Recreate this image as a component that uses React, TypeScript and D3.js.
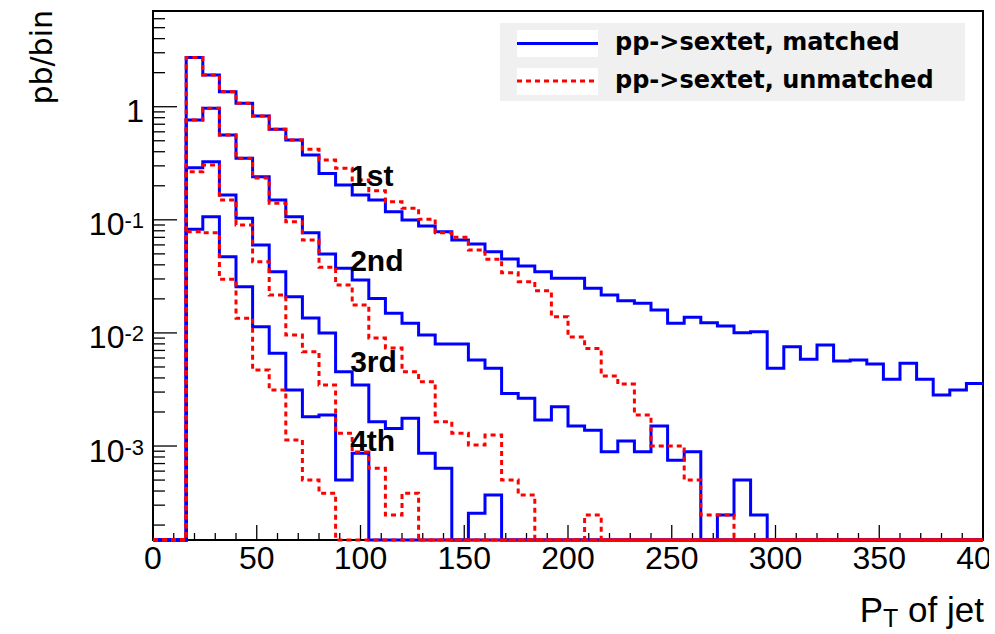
import React from "react";
import * as d3 from "d3";

// ---- data (pb/bin), 50 bins of width 8 GeV from 0 to 400 ----
const BIN_WIDTH = 8;
const X_DOMAIN: [number, number] = [0, 400];
const Y_DOMAIN: [number, number] = [1.476e-4, 7.02];

const matched1st = [0, 0, 2.73, 1.907, 1.357, 1.072, 0.828, 0.631, 0.508, 0.374, 0.2567, 0.203, 0.1657, 0.1497, 0.1179, 0.0996, 0.0882, 0.0785, 0.0663, 0.0611, 0.0522, 0.045, 0.039, 0.0348, 0.0304, 0.0304, 0.0248, 0.0216, 0.01926, 0.01827, 0.01594, 0.01216, 0.01373, 0.01231, 0.0115, 0.01004, 0.01025, 0.00486, 0.00755, 0.00584, 0.00782, 0.00564, 0.00576, 0.00531, 0.00389, 0.00538, 0.00389, 0.00282, 0.00313, 0.00358];
const unmatched1st = [0, 0, 2.73, 1.907, 1.357, 1.072, 0.828, 0.631, 0.508, 0.42, 0.338, 0.2853, 0.2248, 0.1809, 0.1445, 0.1264, 0.101, 0.0769, 0.07, 0.054, 0.0447, 0.0341, 0.0284, 0.0236, 0.0139, 0.0092, 0.0073, 0.00416, 0.00353, 0.00188, 0.001, 0.001, 0.0005, 0.000245, 0.000245, 0, 0, 0, 0, 0, 0, 0, 0, 0, 0, 0, 0, 0, 0, 0];
const matched2nd = [0, 0, 0.763, 0.968, 0.562, 0.35, 0.2404, 0.1497, 0.1065, 0.0769, 0.0498, 0.0373, 0.0294, 0.0202, 0.0149, 0.01216, 0.00958, 0.00798, 0.00798, 0.00576, 0.00486, 0.00292, 0.00264, 0.0017, 0.00223, 0.0015, 0.00138, 0.00089, 0.00111, 0.00089, 0.0015, 0.00075, 0.00089, 0, 0.000245, 0.0005, 0.000245, 0, 0, 0, 0, 0, 0, 0, 0, 0, 0, 0, 0, 0];
const unmatched2nd = [0, 0, 0.763, 0.968, 0.562, 0.35, 0.234, 0.14, 0.0962, 0.0663, 0.038, 0.0265, 0.01765, 0.009, 0.00735, 0.00454, 0.0037, 0.00164, 0.0013, 0.00102, 0.00125, 0.0005, 0.000369, 0, 0, 0, 0.000245, 0, 0, 0, 0, 0, 0, 0, 0, 0, 0, 0, 0, 0, 0, 0, 0, 0, 0, 0, 0, 0, 0, 0];
const matched3rd = [0, 0, 0.289, 0.3265, 0.1657, 0.1031, 0.0599, 0.0348, 0.0209, 0.01354, 0.00998, 0.00454, 0.00346, 0.00164, 0.00143, 0.00176, 0.000862, 0.000635, 0, 0.000254, 0.000369, 0, 0, 0, 0, 0, 0, 0, 0, 0, 0, 0, 0, 0, 0, 0, 0, 0, 0, 0, 0, 0, 0, 0, 0, 0, 0, 0, 0, 0];
const unmatched3rd = [0, 0, 0.2663, 0.305, 0.1497, 0.0899, 0.0426, 0.0216, 0.00958, 0.00682, 0.00346, 0.0013, 0.000885, 0.000635, 0.000245, 0.000382, 0, 0, 0, 0, 0, 0, 0, 0, 0, 0, 0, 0, 0, 0, 0, 0, 0, 0, 0, 0, 0, 0, 0, 0, 0, 0, 0, 0, 0, 0, 0, 0, 0, 0];
const matched4th = [0, 0, 0.0824, 0.1065, 0.0472, 0.0256, 0.01134, 0.0066, 0.00313, 0.001816, 0.00188, 0.0005, 0.000862, 0, 0, 0, 0, 0, 0, 0, 0, 0, 0, 0, 0, 0, 0, 0, 0, 0, 0, 0, 0, 0, 0, 0, 0, 0, 0, 0, 0, 0, 0, 0, 0, 0, 0, 0, 0, 0];
const unmatched4th = [0, 0, 0.0785, 0.0769, 0.0298, 0.01346, 0.0047, 0.00313, 0.00113, 0.0005, 0.000382, 0, 0, 0, 0, 0, 0, 0, 0, 0, 0, 0, 0, 0, 0, 0, 0, 0, 0, 0, 0, 0, 0, 0, 0, 0, 0, 0, 0, 0, 0, 0, 0, 0, 0, 0, 0, 0, 0, 0];

const matchedSeries = [matched1st, matched2nd, matched3rd, matched4th];
const unmatchedSeries = [unmatched1st, unmatched2nd, unmatched3rd, unmatched4th];

const xMajorTicks = [0, 50, 100, 150, 200, 250, 300, 350, 400];
const xTickLabels = ["0", "50", "100", "150", "200", "250", "300", "350", "400"];
const yMajorTicks = [1e-3, 1e-2, 1e-1, 1];
const yTickBase = ["10", "10", "10", "1"];
const yTickExp = ["-3", "-2", "-1", ""];

const legendLabels = ["pp->sextet, matched", "pp->sextet, unmatched"];
const ordinalLabels = ["1st", "2nd", "3rd", "4th"];
const ordinalAt = [
  [95, 0.2],
  [95, 0.035],
  [95, 0.0045],
  [95, 0.0009],
];

const xTitleMain = "P";
const xTitleSub = "T";
const xTitleRest = " of jet";
const yTitle = "pb/bin";

// ---- layout ----
const W = 995;
const H = 634;
const FRAME = { left: 153, right: 983, top: 11, bottom: 540 };
const BLUE = "#0000ff";
const RED = "#ff0000";
const SANS = "'Liberation Sans', Arial, Helvetica, sans-serif";
const DEJAVU = "'DejaVu Sans', sans-serif";

const x = d3.scaleLinear().domain(X_DOMAIN).range([FRAME.left, FRAME.right]);
const y = d3.scaleLog().domain(Y_DOMAIN).range([FRAME.bottom, FRAME.top]);

const stepLine = d3
  .line<[number, number]>()
  .x((d) => x(d[0]))
  .y((d) => y(Math.max(d[1], Y_DOMAIN[0])))
  .curve(d3.curveStepAfter);

function histPath(vals: number[]): string {
  const pts: [number, number][] = vals.map((v, i) => [i * BIN_WIDTH, v]);
  pts.push([vals.length * BIN_WIDTH, vals[vals.length - 1]]);
  return stepLine(pts) || "";
}

export default function App() {
  const xMinor = d3.range(X_DOMAIN[0], X_DOMAIN[1] + 1, 10);
  const yAll = y.ticks();
  const isMajorY = (v: number) => Math.abs(Math.log10(v) - Math.round(Math.log10(v))) < 1e-6;

  return (
    <svg
      width={W}
      height={H}
      viewBox={`0 0 ${W} ${H}`}
      style={{ position: "absolute", left: 0, top: 0, background: "#fff" }}
    >
      <defs>
        <clipPath id="canvasClip">
          <rect x={0} y={0} width={989} height={H} />
        </clipPath>
      </defs>
      <rect x={0} y={0} width={W} height={H} fill="#fff" />

      {/* frame */}
      <rect
        x={FRAME.left}
        y={FRAME.top}
        width={FRAME.right - FRAME.left}
        height={FRAME.bottom - FRAME.top}
        fill="none"
        stroke="#000"
        strokeWidth={2}
      />

      {/* y ticks */}
      {yAll
        .filter((v) => v >= Y_DOMAIN[0] && v <= Y_DOMAIN[1])
        .map((v, i) => {
          const len = isMajorY(v) ? 24 : 12;
          return (
            <line
              key={`yt${i}`}
              x1={FRAME.left}
              x2={FRAME.left + len}
              y1={y(v)}
              y2={y(v)}
              stroke="#000"
              strokeWidth={1.3}
            />
          );
        })}

      {/* x ticks */}
      {xMinor.map((v, i) => {
        const len = v % 50 === 0 ? 15 : 7;
        return (
          <line
            key={`xt${i}`}
            x1={x(v)}
            x2={x(v)}
            y1={FRAME.bottom}
            y2={FRAME.bottom - len}
            stroke="#000"
            strokeWidth={1.3}
          />
        );
      })}

      {/* histograms */}
      {matchedSeries.map((s, i) => (
        <path key={`m${i}`} d={histPath(s)} fill="none" stroke={BLUE} strokeWidth={3} />
      ))}
      {unmatchedSeries.map((s, i) => (
        <path
          key={`u${i}`}
          d={histPath(s)}
          fill="none"
          stroke={RED}
          strokeWidth={3}
          strokeDasharray="5 4"
        />
      ))}

      {/* x tick labels (the canvas cuts the last one, as in the original) */}
      <g clipPath="url(#canvasClip)">
        {xMajorTicks.map((v, i) => (
          <text
            key={`xl${i}`}
            x={x(v)}
            y={569}
            textAnchor="middle"
            fontFamily={SANS}
            fontSize={32}
            fill="#000"
          >
            {xTickLabels[i]}
          </text>
        ))}
      </g>

      {/* y tick labels */}
      {yMajorTicks.map((v, i) => (
        <text
          key={`yl${i}`}
          x={144}
          y={y(v) + 15.5}
          textAnchor="end"
          fontFamily={SANS}
          fontSize={32}
          fill="#000"
        >
          {yTickBase[i]}
          {yTickExp[i] && (
            <tspan fontSize={22} dy={-7}>
              {yTickExp[i]}
            </tspan>
          )}
        </text>
      ))}

      {/* axis titles */}
      <text
        transform={`translate(52,${FRAME.top - 1}) rotate(-90)`}
        textAnchor="end"
        fontFamily={DEJAVU}
        fontSize={30}
        fill="#000"
      >
        {yTitle}
      </text>
      <text x={984} y={622} textAnchor="end" fontFamily={SANS} fontSize={35} fill="#000">
        {xTitleMain}
        <tspan fontSize={25} dy={5}>
          {xTitleSub}
        </tspan>
        <tspan dy={-5}>{xTitleRest}</tspan>
      </text>

      {/* ordinal annotations */}
      {ordinalLabels.map((t, i) => (
        <text
          key={`o${i}`}
          x={x(ordinalAt[i][0])}
          y={y(ordinalAt[i][1])}
          fontFamily={SANS}
          fontWeight="bold"
          fontSize={30}
          fill="#000"
        >
          {t}
        </text>
      ))}

      {/* legend */}
      <g>
        <rect x={500} y={23} width={465} height={78} fill="#f0f0f0" />
        <rect x={517} y={30} width={81} height={27} fill="#fff" />
        <rect x={517} y={68} width={81} height={27} fill="#fff" />
        <line x1={517} x2={598} y1={43.5} y2={43.5} stroke={BLUE} strokeWidth={3} />
        <line
          x1={517}
          x2={598}
          y1={81}
          y2={81}
          stroke={RED}
          strokeWidth={3}
          strokeDasharray="5 4"
        />
        <text x={615} y={50} fontFamily={DEJAVU} fontWeight="bold" fontSize={24} fill="#000">
          {legendLabels[0]}
        </text>
        <text x={615} y={87.5} fontFamily={DEJAVU} fontWeight="bold" fontSize={24} fill="#000">
          {legendLabels[1]}
        </text>
      </g>
    </svg>
  );
}
